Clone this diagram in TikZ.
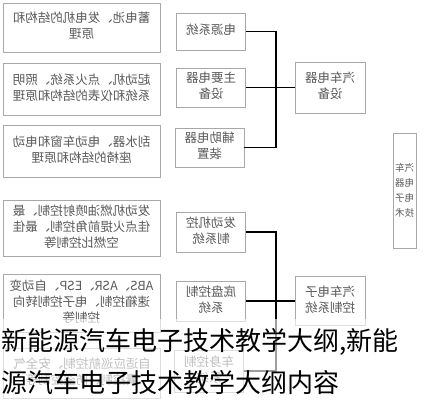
\documentclass[tikz,border=0pt]{standalone}
\usepackage{fontspec}
\setmainfont{Noto Sans CJK SC}
\usepackage{graphicx}
\newcommand\mirtext[1]{\reflectbox{\begin{tabular}{@{}c@{}}#1\end{tabular}}}
\definecolor{boxgray}{HTML}{A8A8A8}
\definecolor{txtgray}{HTML}{5A5A5A}
\begin{document}
\begin{tikzpicture}[x=1pt,y=-1pt,
  box/.style={draw=boxgray, line width=0.9pt, rectangle, inner sep=0pt,
    text=txtgray, font=\fontsize{12.5}{16}\selectfont},
  conn/.style={draw=black, line width=1.3pt},
  title/.style={anchor=west, inner sep=0pt, text=black, font=\fontsize{26}{30}\selectfont}]
\useasboundingbox (0,0) rectangle (429,400);
\fill[white] (0,0) rectangle (429,400);
% left description boxes
\node[box, minimum width=157pt, minimum height=49pt] (B1) at (81.5,27.5) {\mirtext{蓄电池、发电机的结构和\\原理}};
\node[box, minimum width=157pt, minimum height=52pt] (B2) at (81.5,89) {\mirtext{起动机、点火系统、照明\\系统和仪表的结构和原理}};
\node[box, minimum width=157pt, minimum height=52pt] (B3) at (81.5,151) {\mirtext{刮水器、电动车窗和电动\\座椅的结构和原理}};
\node[box, minimum width=157pt, minimum height=56pt] (B4) at (81.5,228) {\mirtext{发动机燃油喷射控制、最\\佳点火提前角控制、最佳\\空燃比控制等}};
\node[box, minimum width=157pt, minimum height=58pt] (B5) at (81.5,303) {\mirtext{ABS、ASR、ESP、自动变\\速箱控制、电子控制转向\\控制等}};
\node[box, minimum width=157pt, minimum height=50pt] (B6) at (82,373) {\mirtext{自适应巡航控制、安全气\\囊控制、防盗控制等}};
% middle boxes
\node[box, minimum width=69pt, minimum height=37pt] (M1) at (211,31.5) {\mirtext{电源系统}};
\node[box, minimum width=69pt, minimum height=39pt] (M2) at (211,87.5) {\mirtext{主要电器\\设备}};
\node[box, minimum width=69pt, minimum height=39pt] (M3) at (209.5,147.5) {\mirtext{辅助电器\\装置}};
\node[box, minimum width=69pt, minimum height=40pt] (M4) at (211,232) {\mirtext{发动机控\\制系统}};
\node[box, minimum width=69pt, minimum height=40pt] (M5) at (211,301) {\mirtext{底盘控制\\系统}};
\node[box, minimum width=69pt, minimum height=42pt] (M6) at (209,371) {\mirtext{车身控制\\系统}};
% right boxes
\node[box, minimum width=70pt, minimum height=51pt] (R1) at (330,87.5) {\mirtext{汽车电器\\设备}};
\node[box, minimum width=70pt, minimum height=49pt] (R2) at (330,301) {\mirtext{汽车电子\\控制系统}};
\node[box, minimum width=23pt, minimum height=115pt, font=\fontsize{9.5}{15}\selectfont] (T) at (404.5,190.5) {\mirtext{汽车\\电器\\电子\\技术}};
% connectors
\coordinate (J1) at (276,87.5);
\coordinate (J2) at (276,301);
\draw[conn] (M1.east) -| (J1) |- (M3.east);
\draw[conn] (M2.east) -- (R1.west);
\draw[conn] (M4.east) -| (J2) |- (M6.east);
\draw[conn] (M5.east) -- (R2.west);
% translucent band and overlay caption
\fill[white, opacity=0.62] (0,319) rectangle (429,400);
\node[title] (C1) at (1,342) {新能源汽车电子技术教学大纲,新能};
\node[title] (C2) at (1,383) {源汽车电子技术教学大纲内容};
\end{tikzpicture}
\end{document}
